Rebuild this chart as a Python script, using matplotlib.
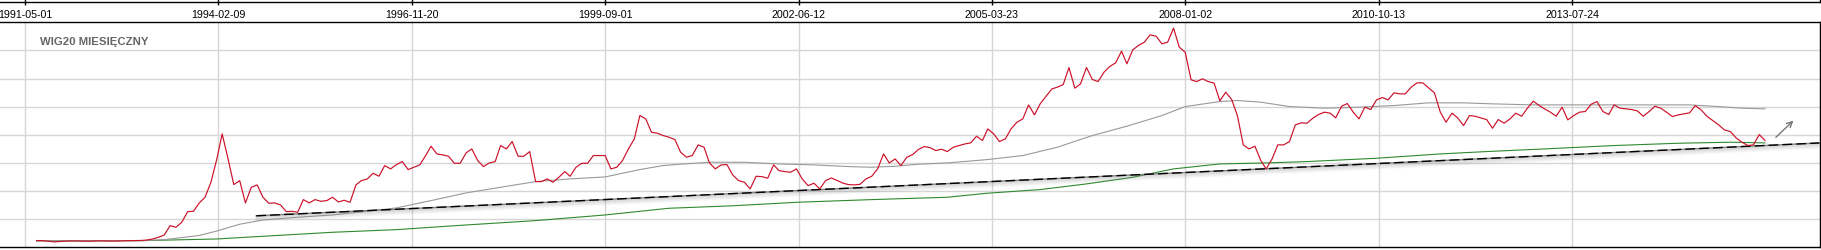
import pandas as pd
import matplotlib
matplotlib.use("Agg")
import matplotlib.pyplot as plt
import matplotlib.patheffects as pe
from matplotlib.lines import Line2D

plt.rcParams["font.family"] = ["Liberation Sans", "DejaVu Sans"]

# --- dane (wartości indeksu, miesięcznie) ---
red_start = "1991-07-01"
red_values = [
    120, 118, 108, 96, 104, 110, 114, 112, 110, 108, 112, 115, 112, 110, 113, 115, 118, 120, 122,
    130, 148, 178, 219, 385, 356, 445, 634, 640, 789,
    890, 1156, 1571, 2016, 1571, 1115, 1186, 789, 1067, 1109,
    890, 783, 789, 753, 634, 640, 623, 848, 789, 848,
    818, 830, 890, 806, 836, 800, 1109, 1186, 1216, 1316,
    1263, 1453, 1394, 1471, 1524, 1382, 1423, 1465, 1631, 1797,
    1660, 1643, 1619, 1494, 1494, 1678, 1749, 1542, 1435, 1500,
    1524, 1809, 1749, 1880, 1619, 1619, 1702, 1168, 1168, 1216,
    1156, 1245, 1346, 1263, 1423, 1494, 1494, 1631, 1631, 1631,
    1394, 1423, 1542, 1749, 1927, 2342, 2283, 2046, 2028, 1987,
    1957, 1915, 1690, 1601, 1631, 1821, 1779, 1500, 1394, 1465,
    1471, 1287, 1186, 1156, 1038, 1263, 1257, 1228, 1465, 1364,
    1346, 1334, 1394, 1216, 1097, 1139, 1038, 1186, 1233, 1186,
    1139, 1115, 1109, 1121, 1216, 1263, 1394, 1660, 1500, 1571,
    1453, 1601, 1649, 1737, 1791, 1773, 1720, 1743, 1702, 1779,
    1809, 1838, 1856, 1975, 1898, 2105, 2016, 1880, 1927, 2105,
    2224, 2283, 2532, 2354, 2550, 2686, 2817, 2846, 2894, 3196,
    2829, 2906, 3196, 2983, 2947, 3113, 3214, 3279, 3487, 3262,
    3511, 3588, 3647, 3777, 3754, 3617, 3647, 3896, 3558, 3469,
    2977, 2947, 2995, 2947, 2918, 2603, 2757, 2627, 2342, 1821,
    1749, 1797, 1542, 1394, 1571, 1821, 1821, 1880, 2176, 2212,
    2206, 2295, 2360, 2402, 2384, 2301, 2508, 2556, 2402, 2283,
    2491, 2449, 2621, 2663, 2621, 2746, 2728, 2728, 2846, 2923,
    2923, 2835, 2746, 2402, 2224, 2384, 2301, 2164, 2342, 2330,
    2301, 2271, 2117, 2271, 2206, 2283, 2384, 2330, 2473, 2597,
    2520, 2461, 2402, 2330, 2491, 2265, 2342, 2402, 2414, 2544,
    2591, 2414, 2360, 2532, 2473, 2461, 2449, 2425, 2330, 2414,
    2508, 2473, 2402, 2325, 2354, 2372, 2390, 2520, 2443, 2330,
    2253, 2176, 2087, 2058, 1945, 1868, 1809, 1821, 2004, 1898,
]

# szara średnia (odczyt co kilka miesięcy)
gray_dates = [
    "1991-07", "1993-01", "1993-05", "1993-11", "1994-02", "1994-06", "1994-10",
    "1995-04", "1995-10", "1996-03", "1996-09", "1997-03", "1997-09", "1998-03",
    "1998-09", "1999-03", "1999-09", "2000-03", "2000-07", "2000-10", "2001-03",
    "2001-09", "2002-03", "2002-09", "2003-03", "2003-07", "2003-11", "2004-03",
    "2004-08", "2005-03", "2005-09", "2006-03", "2006-09", "2007-03", "2007-09",
    "2008-01", "2008-07", "2008-10", "2009-02", "2009-07", "2010-01", "2010-07",
    "2011-01", "2011-07", "2012-01", "2012-06", "2013-01", "2013-11", "2014-09",
    "2015-04", "2015-09", "2016-01", "2016-05",
]
gray_values = [
    115, 118, 136, 210, 290, 410, 486,
    534, 575, 630, 700, 830, 967, 1067,
    1168, 1216, 1251, 1382, 1453, 1478, 1512,
    1512, 1482, 1465, 1435, 1423, 1441, 1477,
    1500, 1560, 1631, 1779, 1987, 2153, 2342,
    2502, 2591, 2609, 2580, 2502, 2473, 2491,
    2520, 2568, 2568, 2550, 2532, 2532, 2532,
    2532, 2502, 2473, 2461,
]

# zielona średnia
green_dates = [
    "1991-07", "1993-01", "1994-02", "1994-10", "1995-10", "1996-09", "1997-09",
    "1998-09", "1999-09", "2000-08", "2001-07", "2002-06", "2003-07", "2004-08",
    "2005-03", "2005-12", "2006-08", "2007-04", "2007-11", "2008-07", "2009-03",
    "2009-10", "2010-10", "2011-09", "2012-05", "2013-03", "2014-03", "2015-02",
    "2015-11", "2016-05",
]
green_values = [
    115, 118, 148, 196, 267, 314, 397,
    474, 575, 694, 738, 800, 848, 890,
    962, 1026, 1127, 1245, 1394, 1482, 1500,
    1524, 1583, 1660, 1702, 1749, 1809, 1850,
    1868, 1856,
]

# linia trendu
trend_dates = ["1994-08-27", "2017-02-11"]
trend_values = [560, 1855]

# strzałka
arrow_dates = ["2016-06-27", "2016-09-27"]
arrow_values = [1956, 2251]

tick_labels = [
    "1991-05-01", "1994-02-09", "1996-11-20", "1999-09-01", "2002-06-12",
    "2005-03-23", "2008-01-02", "2010-10-13", "2013-07-24",
]

red_dates = pd.date_range(red_start, periods=len(red_values), freq="MS")
gray_x = pd.to_datetime(gray_dates)
green_x = pd.to_datetime(green_dates)
trend_x = pd.to_datetime(trend_dates)
arrow_x = pd.to_datetime(arrow_dates)
tick_x = pd.to_datetime(tick_labels)

W, H = 1821, 251
fig = plt.figure(figsize=(W / 100, H / 100), dpi=100)
ax = fig.add_axes([0, 2.7 / H, 1819.5 / W, 225 / H])

ax.set_xlim(pd.Timestamp("1990-12-21"), pd.Timestamp("2017-02-11"))
ax.set_ylim(0, 4000)

ax.set_yticks(range(500, 4000, 500))
ax.yaxis.tick_right()
ax.tick_params(axis="y", direction="out", length=2, labelright=False, color="black")

ax.set_xticks(tick_x)
ax.set_xticklabels(tick_labels)
ax.xaxis.tick_top()
ax.tick_params(axis="x", length=0, pad=2.3, labelsize=7.7, labelcolor="black")

ax.grid(True, color="#d6d6d6", lw=1)
ax.set_axisbelow(True)
ax.spines["left"].set_visible(False)
for s in ("top", "right", "bottom"):
    ax.spines[s].set_color("black")
    ax.spines[s].set_linewidth(1)

# pasek z datami nad wykresem
top_y = 1 - 3.3 / H
fig.add_artist(Line2D([0, 1819.5 / W], [top_y, top_y], color="black", lw=1))
fig.add_artist(Line2D([1819.5 / W, 1819.5 / W], [top_y, 1], color="black", lw=1))
ax.vlines(tick_x, 1.077, 1.11, transform=ax.get_xaxis_transform(),
          color="black", lw=1, clip_on=False)

# średnie
ax.plot(green_x, green_values, color="#2f8a2f", lw=0.8, zorder=3)
ax.plot(gray_x, gray_values, color="#999999", lw=0.8, zorder=3)

# linia trendu z cieniem
shadow = [pe.SimpleLineShadow(offset=(0, -k * 0.75), shadow_color="#808080",
                              alpha=0.3 - k * 0.05) for k in range(1, 6)]
ax.plot(trend_x, trend_values, color="#808080", lw=1.0, zorder=4,
        path_effects=shadow + [pe.Normal()])
ax.plot(trend_x, trend_values, color="black", lw=1.0, dashes=(7, 3), zorder=4)

# kurs
ax.plot(red_dates, red_values, color="#cc1028", lw=0.85, zorder=5)

ax.annotate("", xy=(arrow_x[1], arrow_values[1]), xytext=(arrow_x[0], arrow_values[0]),
            arrowprops=dict(arrowstyle="->", color="#777777", lw=1, shrinkA=0, shrinkB=0))

ax.text(40 / 1819.5, 0.917, "WIG20 MIESIĘCZNY", transform=ax.transAxes,
        ha="left", va="center", fontsize=8.2, fontweight="bold", color="#666666")

fig.savefig("out.png", dpi=100)
